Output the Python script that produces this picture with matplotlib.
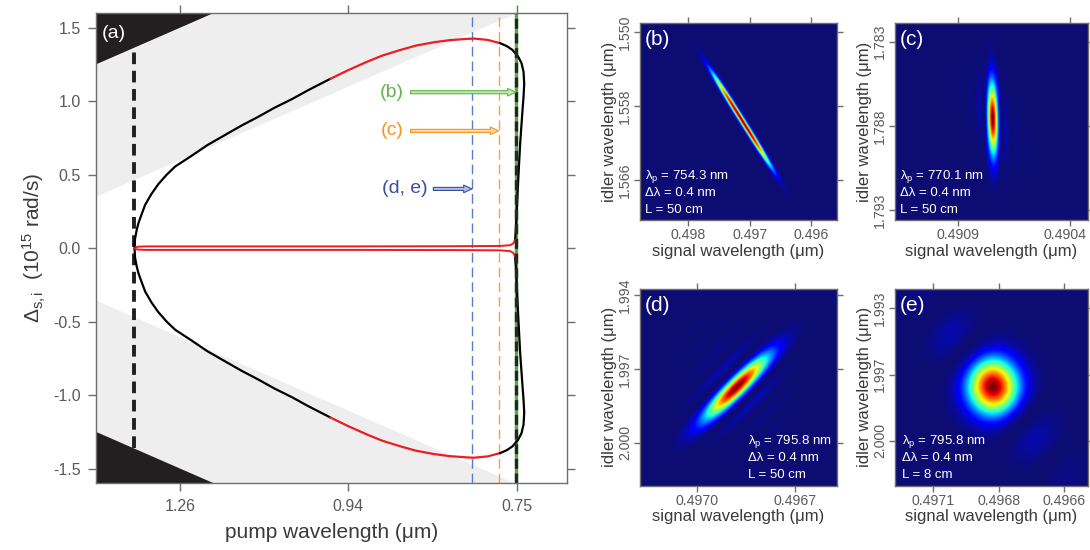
import numpy as np
import matplotlib
matplotlib.use("Agg")
import matplotlib.pyplot as plt
import matplotlib.transforms as mtransforms
from matplotlib.colors import LinearSegmentedColormap

plt.rcParams['font.family'] = ['Liberation Sans', 'DejaVu Sans']
plt.rcParams['mathtext.fontset'] = 'custom'
plt.rcParams['mathtext.rm'] = 'Liberation Sans'
plt.rcParams['mathtext.it'] = 'Liberation Sans:italic'
plt.rcParams['mathtext.bf'] = 'Liberation Sans:bold'

# ---------------- panel (a) data ----------------
TWO_PI_C = 1.88365            # 2*pi*c  [um * 1e15 rad/s]
pump_tick_omega = [1.5, 2.0, 2.5]
pump_tick_labels = ['1.26', '0.94', '0.75']
delta_ticks = [-1.5, -1.0, -0.5, 0.0, 0.5, 1.0, 1.5]
delta_tick_labels = ['-1.5', '-1.0', '-0.5', '0.0', '0.5', '1.0', '1.5']
omega_range = [1.25, 2.65]
delta_range = [-1.6, 1.6]
idler_cut_offset = 0.896      # gray band: omega_p - 0.896 < |Delta| < omega_p

# upper half of phase-matching contour (mirrored for lower half)
seg_black1_w = [1.3645, 1.366, 1.371, 1.376, 1.383, 1.396, 1.415, 1.435, 1.46, 1.485,
                1.535, 1.58, 1.634, 1.683, 1.733, 1.78, 1.832, 1.882, 1.946]
seg_black1_d = [0.0, 0.065, 0.125, 0.17, 0.215, 0.295, 0.37, 0.435, 0.50, 0.555,
                0.63, 0.70, 0.771, 0.835, 0.895, 0.955, 1.014, 1.077, 1.152]
seg_red1_w = [1.946, 2.0, 2.056, 2.1, 2.155, 2.2, 2.254, 2.3, 2.353, 2.373, 2.413, 2.45]
seg_red1_d = [1.152, 1.212, 1.269, 1.31, 1.349, 1.378, 1.401, 1.415, 1.424, 1.426, 1.417, 1.395]
seg_black2_w = [2.45, 2.47, 2.487, 2.504, 2.514, 2.52, 2.522, 2.52, 2.517, 2.51, 2.505,
                2.5, 2.497, 2.495]
seg_black2_d = [1.395, 1.375, 1.349, 1.303, 1.259, 1.2, 1.12, 1.03, 0.94, 0.714, 0.5,
                0.26, 0.12, 0.06]
seg_red2_w = [2.495, 2.49, 2.48, 2.45, 2.3, 2.0, 1.6, 1.4, 1.375, 1.368, 1.3645]
seg_red2_d = [0.06, 0.033, 0.02, 0.015, 0.013, 0.012, 0.012, 0.012, 0.01, 0.006, 0.0]

degenerate_omega = 1.362
pump_wl_b, pump_wl_c, pump_wl_de = 0.7543, 0.7701, 0.7958   # um
arrow_labels = ['(b)', '(c)', '(d, e)']
arrow_delta = [1.061, 0.798, 0.403]
arrow_start_omega = [2.1845, 2.1845, 2.252]
label_right_omega = [2.164, 2.164, 2.234]

# ---------------- panels (b)-(e) data ----------------
panel_tags = ['(b)', '(c)', '(d)', '(e)']
panel_pump_nm = ['754.3', '770.1', '795.8', '795.8']
panel_bw_nm = ['0.4', '0.4', '0.4', '0.4']
panel_L_cm = ['50', '50', '50', '8']
panel_xlim = [(0.498787, 0.495581), (0.491181, 0.490320), (0.497173, 0.496573), (0.497215, 0.496479)]
panel_ylim = [(1.57033, 1.54902), (1.79359, 1.78191), (2.001747, 1.99376), (2.00224, 1.99244)]
panel_xticks = [[0.498, 0.497, 0.496], [0.4909, 0.4904], [0.4970, 0.4967], [0.49707, 0.49682, 0.49657]]
panel_xticklabels = [['0.498', '0.497', '0.496'], ['0.4909', '0.4904'], ['0.4970', '0.4967'],
                     ['0.4971', '0.4968', '0.4966']]
panel_yticks = [[1.550, 1.558, 1.566], [1.783, 1.788, 1.793], [1.994, 1.997, 2.000], [1.9934, 1.9967, 2.0000]]
panel_yticklabels = [['1.550', '1.558', '1.566'], ['1.783', '1.788', '1.793'], ['1.994', '1.997', '2.000'],
                     ['1.993', '1.997', '2.000']]
jsa_center_signal = [0.49713, 0.490745, 0.496878, 0.496841]
jsa_center_idler = [1.5595, 1.78756, 1.99773, 1.99729]

# ---------------- style ----------------
SPINE = '#6e6e6e'
TICKLAB = '#5a5a5a'
AXLAB = '#3a3a3a'
RED = '#ec1c24'
GRAY = '#eeeeee'
DARK = '#231f20'

fig = plt.figure(figsize=(10.9, 5.5), dpi=100)

# ================= panel (a) =================
ax = fig.add_axes([96/1090, 1-483.3/550, (567.3-96)/1090, (483.3-13)/550])
w = np.array(omega_range)
ax.fill_between(w, w - idler_cut_offset, w, color=GRAY, lw=0, zorder=0)
ax.fill_between(w, -w, -(w - idler_cut_offset), color=GRAY, lw=0, zorder=0)
ax.fill_between(w, w, 5, color=DARK, lw=0, zorder=0.5)
ax.fill_between(w, -5, -w, color=DARK, lw=0, zorder=0.5)

for sgn in (1, -1):
    ax.plot(seg_black1_w, sgn*np.array(seg_black1_d), color='k', lw=1.6, zorder=5, solid_capstyle='round')
    ax.plot(seg_red1_w, sgn*np.array(seg_red1_d), color=RED, lw=1.6, zorder=5, solid_capstyle='round')
    ax.plot(seg_black2_w, sgn*np.array(seg_black2_d), color='k', lw=1.6, zorder=5, solid_capstyle='round')
    ax.plot(seg_red2_w, sgn*np.array(seg_red2_d), color=RED, lw=1.4, zorder=5, solid_capstyle='round')

# vertical dashed lines
ax.plot([degenerate_omega]*2, [-degenerate_omega, degenerate_omega], color=DARK, lw=2.8,
        dashes=(3.0, 1.7), zorder=4)
wb, wc, wde = TWO_PI_C/pump_wl_b, TWO_PI_C/pump_wl_c, TWO_PI_C/pump_wl_de
ax.axvline(wde, color='#5b7cc4', lw=1.0, dashes=(7, 3.6), zorder=3)
ax.axvline(wc, color='#f7a23c', lw=1.0, dashes=(7, 3.6), zorder=3)
ax.axvline(wb, color='#58a846', lw=2.4, zorder=3)
ax.axvline(wb, color='#1e2a1e', lw=2.4, dashes=(3.0, 1.4), zorder=6)

arrow_colors = ['#62b548', '#f7941d', '#3c4fa2']
arrow_fills = ['#c4e6b6', '#fbd7a6', '#b3bde2']
arrow_targets = [wb, wc, wde]
for lab, dy, x0, xr, col, fc, xt in zip(arrow_labels, arrow_delta, arrow_start_omega,
                                        label_right_omega, arrow_colors, arrow_fills, arrow_targets):
    ax.text(xr, dy, lab, color=col, fontsize=14, ha='right', va='center', zorder=7)
    ax.annotate('', xy=(xt, dy), xytext=(x0, dy), zorder=7,
                arrowprops=dict(arrowstyle='simple,head_width=0.55,head_length=0.6,tail_width=0.22',
                                fc=fc, ec=col, lw=0.8, shrinkA=0, shrinkB=0))

ax.text(1.302, 1.458, '(a)', color='white', fontsize=14, ha='center', va='center', zorder=7)

ax.set_xlim(*omega_range)
ax.set_ylim(*delta_range)
ax.set_xticks(pump_tick_omega)
ax.set_xticklabels(pump_tick_labels)
ax.set_yticks(delta_ticks)
ax.set_yticklabels(delta_tick_labels)
ax.tick_params(direction='out', length=6, width=1, color=SPINE, top=True, right=True,
               labelsize=11.5, labelcolor=TICKLAB, pad=5)
for s in ax.spines.values():
    s.set_color(SPINE)
    s.set_linewidth(1.0)
    s.set_zorder(8)
ax.set_xlabel('pump wavelength (μm)', fontsize=15, color=AXLAB, labelpad=7)
ax.set_ylabel('Δ$_{\\mathrm{s,i}}$  (10$^{15}$ rad/s)', fontsize=15, color=AXLAB, labelpad=4)

# ================= panels (b)-(e) =================
jet_like = LinearSegmentedColormap('jetlike', {
    'red':   [(0, 0.05, 0.05), (0.11, 0, 0), (0.35, 0, 0), (0.66, 1, 1), (0.89, 1, 1), (1, 0.5, 0.5)],
    'green': [(0, 0.05, 0.05), (0.125, 0, 0), (0.375, 1, 1), (0.64, 1, 1), (0.91, 0, 0), (1, 0, 0)],
    'blue':  [(0, 0.45, 0.45), (0.11, 1, 1), (0.34, 1, 1), (0.65, 0, 0), (1, 0, 0)],
})

# shape parameters (pixels, display angles in degrees, y pointing up)
shape = [
    dict(kind='ellipse', angle=-58.0, s_long=42.0, p_long=3.0, s_short=1.8),
    dict(kind='sinc', pm_angle=90.0, pm_zero=9.5, pump_angle=-44.7, pump_sigma=17.0),
    dict(kind='sinc', pm_angle=44.5, pm_zero=16.0, pump_angle=-50.5, pump_sigma=29.0),
    dict(kind='sinc', pm_angle=45.0, pm_zero=47.0, pump_angle=-50.8, pump_sigma=17.5),
]

rects = [
    [640/1090, 1-220/550, 196.7/1090, 196.7/550],
    [895/1090, 1-220/550, 193/1090, 196.7/550],
    [640/1090, 1-485.7/550, 196.7/1090, 196.7/550],
    [895/1090, 1-485.7/550, 193/1090, 196.7/550],
]
text_x = [0.025, 0.026, 0.551, 0.0345]
text_y = [[0.220, 0.136, 0.051], [0.220, 0.136, 0.051], [0.224, 0.139, 0.054], [0.224, 0.139, 0.054]]
tag_y = [0.919, 0.919, 0.915, 0.915]

n = 500
for i in range(4):
    a = fig.add_axes(rects[i])
    xl, yl = panel_xlim[i], panel_ylim[i]     # yl = (bottom value, top value)
    bb = a.get_window_extent()
    W, H = bb.width, bb.height
    # display-pixel grid inside the axes, y pointing up; row 0 = top
    PX, PY = np.meshgrid(np.linspace(0, W, n), np.linspace(H, 0, n))
    cx = (jsa_center_signal[i] - xl[0]) / (xl[1] - xl[0]) * W
    cy = (jsa_center_idler[i] - yl[0]) / (yl[1] - yl[0]) * H
    dx = PX - cx
    dyu = PY - cy
    sp = shape[i]
    if sp['kind'] == 'ellipse':
        t = np.deg2rad(sp['angle'])
        l = dx*np.cos(t) + dyu*np.sin(t)
        q = -dx*np.sin(t) + dyu*np.cos(t)
        I = np.exp(-0.5*np.abs(l/sp['s_long'])**sp['p_long']) * np.exp(-0.5*(q/sp['s_short'])**2)
    else:
        tp = np.deg2rad(sp['pm_angle'])
        q = -dx*np.sin(tp) + dyu*np.cos(tp)
        tu = np.deg2rad(sp['pump_angle'])
        p = -dx*np.sin(tu) + dyu*np.cos(tu)
        I = np.sinc(q/sp['pm_zero'])**2 * np.exp(-0.5*(p/sp['pump_sigma'])**2)
    I = I / I.max()
    a.imshow(I, extent=(xl[0], xl[1], yl[0], yl[1]), origin='upper', aspect='auto',
             cmap=jet_like, vmin=0, vmax=1, interpolation='bilinear')
    a.set_xlim(xl[0], xl[1])
    a.set_ylim(yl[0], yl[1])
    a.set_xticks(panel_xticks[i])
    a.set_xticklabels(panel_xticklabels[i])
    a.set_yticks(panel_yticks[i])
    a.set_yticklabels(panel_yticklabels[i], rotation=90, va='center')
    a.tick_params(direction='out', length=4, width=1, color=SPINE, top=True, right=True,
                  labelsize=10.2, labelcolor=TICKLAB, pad=2)
    a.tick_params(axis='y', pad=1.5)
    for s in a.spines.values():
        s.set_color(SPINE)
        s.set_linewidth(1.0)
    a.set_xlabel('signal wavelength (μm)', fontsize=12, color=AXLAB, labelpad=1)
    a.set_ylabel('idler wavelength (μm)', fontsize=12, color=AXLAB, labelpad=1)
    a.text(0.025, tag_y[i], panel_tags[i], transform=a.transAxes, color='white',
           fontsize=15, ha='left', va='center')
    lines = ['λ$_\\mathrm{p}$ = %s nm' % panel_pump_nm[i],
             'Δλ = %s nm' % panel_bw_nm[i],
             'L = %s cm' % panel_L_cm[i]]
    for ln, yy in zip(lines, text_y[i]):
        a.text(text_x[i], yy, ln, transform=a.transAxes, color='white', fontsize=9.5,
               ha='left', va='center')
    # keep the right-most tick label inside the figure edge
    if i == 1:
        lab = a.get_xticklabels()[-1]
        lab.set_transform(lab.get_transform() +
                          mtransforms.ScaledTranslation(-4/72, 0, fig.dpi_scale_trans))

fig.savefig('out.png', dpi=100)
